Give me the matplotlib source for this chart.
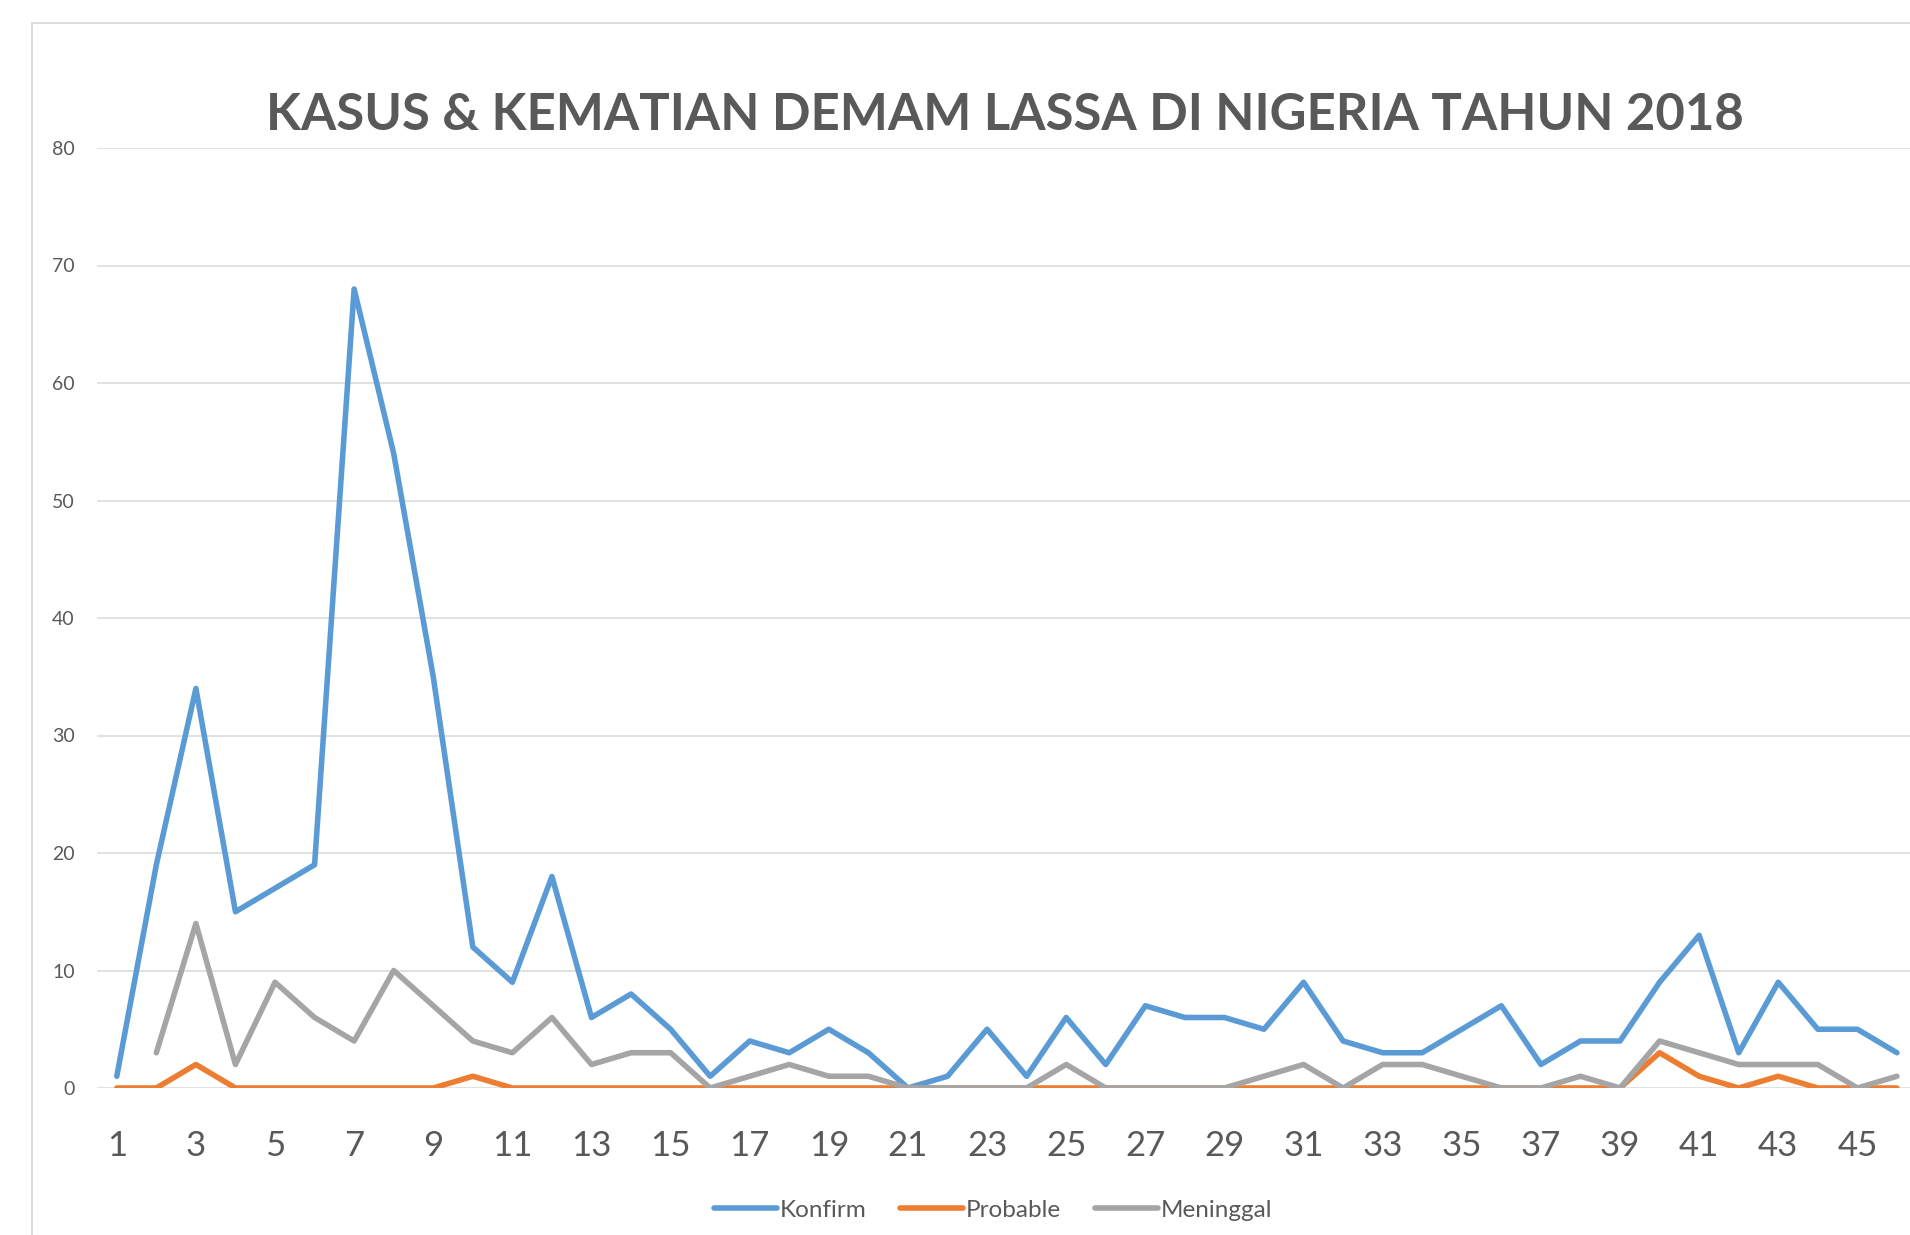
import numpy as np
import matplotlib.pyplot as plt
from matplotlib.patches import Rectangle

# weekly data, week 1..46
weeks = np.arange(1, 47)
konfirm = [1, 19, 34, 15, 17, 19, 68, 54, 35, 12,
           9, 18, 6, 8, 5, 1, 4, 3, 5, 3,
           0, 1, 5, 1, 6, 2, 7, 6, 6, 5,
           9, 4, 3, 3, 5, 7, 2, 4, 4, 9,
           13, 3, 9, 5, 5, 3]
probable = [0, 0, 2, 0, 0, 0, 0, 0, 0, 1,
            0, 0, 0, 0, 0, 0, 0, 0, 0, 0,
            0, 0, 0, 0, 0, 0, 0, 0, 0, 0,
            0, 0, 0, 0, 0, 0, 0, 0, 0, 3,
            1, 0, 1, 0, 0, 0]
meninggal = [np.nan, 3, 14, 2, 9, 6, 4, 10, 7, 4,
             3, 6, 2, 3, 3, 0, 1, 2, 1, 1,
             0, 0, 0, 0, 2, 0, 0, 0, 0, 1,
             2, 0, 2, 2, 1, 0, 0, 1, 0, 4,
             3, 2, 2, 2, 0, 1]

title = "KASUS & KEMATIAN DEMAM LASSA DI NIGERIA TAHUN 2018"
text_color = "#595959"
grid_color = "#D9D9D9"

plt.rcParams['font.family'] = ['Lato', 'DejaVu Sans']

W, H = 1910, 1235
fig = plt.figure(figsize=(W / 100, H / 100), dpi=100)

# outer chart frame (cropped on right and bottom)
fig.patches.append(Rectangle((32 / W, -0.1), 1.2, 1 - 23 / H + 0.1,
                             transform=fig.transFigure, fill=False,
                             edgecolor=grid_color, linewidth=1.3))

left, bottom, top = 97 / W, (H - 1088) / H, (H - 148) / H
ax = fig.add_axes([left, bottom, 1.0 - left, top - bottom])

style = dict(lw=4, solid_joinstyle="round", solid_capstyle="round", zorder=3)
ax.plot(weeks, konfirm, color="#5B9BD5", label="Konfirm", **style)
ax.plot(weeks, probable, color="#ED7D31", label="Probable", **style)
ax.plot(weeks, meninggal, color="#A5A5A5", label="Meninggal", **style)

ax.set_ylim(0, 80)
ax.set_yticks(range(0, 81, 10))
ax.set_xlim(0.5, 46.33)
ax.set_xticks(weeks[::2])
ax.grid(axis="y", color=grid_color, lw=1.1)
ax.set_axisbelow(True)
for s in ax.spines.values():
    s.set_visible(False)
ax.tick_params(axis="y", length=0, pad=16, labelsize=14, labelcolor=text_color)
ax.tick_params(axis="x", length=0, pad=30, labelsize=25, labelcolor=text_color)

fig.text(1005 / W, 1 - 116 / H, title, ha="center", va="center",
         fontsize=36.6, fontweight="bold", color=text_color)

leg = fig.legend(loc="center", bbox_to_anchor=(993 / W, 1 - 1210 / H),
                 ncol=3, frameon=False, fontsize=17.5, handlelength=2.6,
                 handletextpad=0.1, columnspacing=1.4)
for t in leg.get_texts():
    t.set_color(text_color)

fig.savefig("out.png", dpi=100)
